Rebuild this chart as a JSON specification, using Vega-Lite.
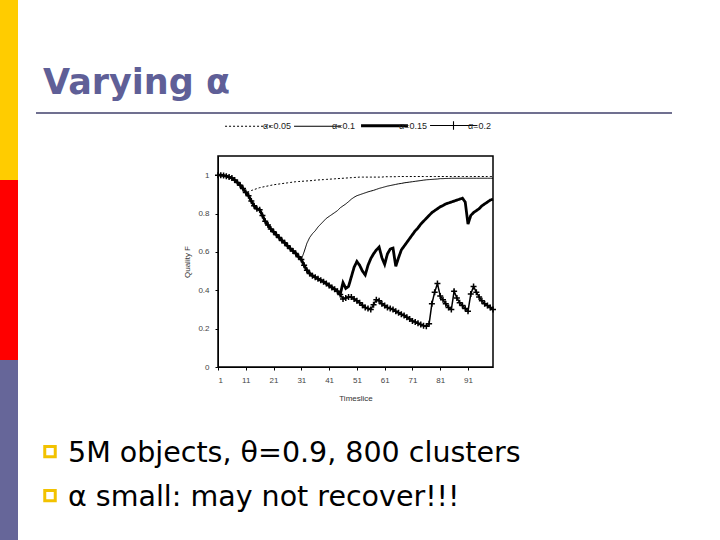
{
  "$schema": "https://vega.github.io/schema/vega-lite/v6.json",
  "padding": 0,
  "background": "white",
  "bounds": "flush",
  "spacing": 18,
  "resolve": {"scale": {"strokeDash": "independent", "color": "independent"}, "legend": {"strokeDash": "independent", "color": "independent"}},
  "config": {
    "view": {"stroke": null},
    "axis": {
      "labelFont": "Liberation Sans", "labelFontSize": 8, "labelColor": "#444444",
      "titleFont": "Liberation Sans", "titleFontSize": 8, "titleFontWeight": "normal", "titleColor": "#333333",
      "tickColor": "black", "domainColor": "black", "tickSize": 3, "grid": false
    }
  },
  "hconcat": [
    {
      "width": 18,
      "height": 540,
      "data": {"values": [{"band": "upper"}, {"band": "middle"}, {"band": "lower"}]},
      "mark": {"type": "rect"},
      "encoding": {
        "y": {"field": "band", "type": "nominal", "sort": ["upper", "middle", "lower"], "scale": {"type": "band", "paddingInner": 0, "paddingOuter": 0}, "axis": null},
        "color": {"field": "band", "type": "nominal", "scale": {"domain": ["upper", "middle", "lower"], "range": ["#ffcc00", "#ff0000", "#666699"]}, "legend": null}
      }
    },
    {
      "bounds": "full",
      "spacing": 6,
      "resolve": {"scale": {"strokeDash": "independent"}, "legend": {"strokeDash": "independent"}},
      "vconcat": [
        {
          "width": 636,
          "height": 113,
          "data": {"values": [{}]},
          "title": {
            "text": "Varying α", "anchor": "start", "orient": "top", "frame": "group",
            "offset": 0, "dx": 7, "dy": 129, "baseline": "alphabetic",
            "font": "DejaVu Sans", "fontSize": 35, "fontWeight": "bold", "color": "#5f5f97"
          },
          "mark": {"type": "rule", "color": "#707090", "strokeWidth": 2},
          "encoding": {"y": {"datum": 0, "type": "quantitative", "scale": {"domain": [0, 1]}, "axis": null}}
        },
        {
          "bounds": "flush",
          "spacing": 0,
          "resolve": {"scale": {"strokeDash": "independent"}, "legend": {"strokeDash": "independent"}},
          "hconcat": [
            {"width": 182, "height": 211, "data": {"values": []}, "mark": "point", "encoding": {}},
            {
              "width": 275,
              "height": 211,
              "view": {"stroke": "black", "strokeWidth": 1.5},
              "data": {"values": [
                {"t": 1, "a05": 1.0, "a10": 1.0, "a15": 1.0, "a20": 1.0},
                {"t": 2, "a05": 1.0, "a10": 1.0, "a15": 1.0, "a20": 1.0},
                {"t": 3, "a05": 0.998, "a10": 0.998, "a15": 0.998, "a20": 0.998},
                {"t": 4, "a05": 0.995, "a10": 0.995, "a15": 0.995, "a20": 0.995},
                {"t": 5, "a05": 0.99, "a10": 0.99, "a15": 0.99, "a20": 0.99},
                {"t": 6, "a05": 0.985, "a10": 0.985, "a15": 0.985, "a20": 0.985},
                {"t": 7, "a05": 0.975, "a10": 0.975, "a15": 0.975, "a20": 0.975},
                {"t": 8, "a05": 0.962, "a10": 0.962, "a15": 0.962, "a20": 0.962},
                {"t": 9, "a05": 0.948, "a10": 0.948, "a15": 0.948, "a20": 0.948},
                {"t": 10, "a05": 0.93, "a10": 0.93, "a15": 0.93, "a20": 0.93},
                {"t": 11, "a05": 0.91, "a10": 0.91, "a15": 0.91, "a20": 0.91},
                {"t": 12, "a05": 0.915, "a10": 0.893, "a15": 0.893, "a20": 0.893},
                {"t": 13, "a05": 0.92, "a10": 0.865, "a15": 0.865, "a20": 0.865},
                {"t": 14, "a05": 0.925, "a10": 0.84, "a15": 0.84, "a20": 0.84},
                {"t": 15, "a05": 0.93, "a10": 0.825, "a15": 0.825, "a20": 0.825},
                {"t": 16, "a05": 0.935, "a10": 0.82, "a15": 0.82, "a20": 0.82},
                {"t": 17, "a05": 0.938, "a10": 0.79, "a15": 0.79, "a20": 0.79},
                {"t": 18, "a05": 0.941, "a10": 0.76, "a15": 0.76, "a20": 0.76},
                {"t": 19, "a05": 0.944, "a10": 0.74, "a15": 0.74, "a20": 0.74},
                {"t": 20, "a05": 0.947, "a10": 0.72, "a15": 0.72, "a20": 0.72},
                {"t": 21, "a05": 0.95, "a10": 0.705, "a15": 0.705, "a20": 0.705},
                {"t": 22, "a05": 0.952, "a10": 0.69, "a15": 0.69, "a20": 0.69},
                {"t": 23, "a05": 0.954, "a10": 0.675, "a15": 0.675, "a20": 0.675},
                {"t": 24, "a05": 0.956, "a10": 0.66, "a15": 0.66, "a20": 0.66},
                {"t": 25, "a05": 0.958, "a10": 0.648, "a15": 0.648, "a20": 0.648},
                {"t": 26, "a05": 0.96, "a10": 0.632, "a15": 0.632, "a20": 0.632},
                {"t": 27, "a05": 0.962, "a10": 0.618, "a15": 0.618, "a20": 0.618},
                {"t": 28, "a05": 0.964, "a10": 0.605, "a15": 0.605, "a20": 0.605},
                {"t": 29, "a05": 0.966, "a10": 0.592, "a15": 0.592, "a20": 0.592},
                {"t": 30, "a05": 0.967, "a10": 0.575, "a15": 0.575, "a20": 0.575},
                {"t": 31, "a05": 0.968, "a10": 0.56, "a15": 0.56, "a20": 0.56},
                {"t": 32, "a05": 0.969, "a10": 0.6, "a15": 0.53, "a20": 0.53},
                {"t": 33, "a05": 0.97, "a10": 0.645, "a15": 0.505, "a20": 0.505},
                {"t": 34, "a05": 0.971, "a10": 0.675, "a15": 0.488, "a20": 0.488},
                {"t": 35, "a05": 0.972, "a10": 0.695, "a15": 0.476, "a20": 0.476},
                {"t": 36, "a05": 0.974, "a10": 0.71, "a15": 0.468, "a20": 0.468},
                {"t": 37, "a05": 0.975, "a10": 0.73, "a15": 0.46, "a20": 0.46},
                {"t": 38, "a05": 0.976, "a10": 0.745, "a15": 0.452, "a20": 0.452},
                {"t": 39, "a05": 0.977, "a10": 0.76, "a15": 0.445, "a20": 0.445},
                {"t": 40, "a05": 0.978, "a10": 0.775, "a15": 0.435, "a20": 0.435},
                {"t": 41, "a05": 0.979, "a10": 0.785, "a15": 0.425, "a20": 0.425},
                {"t": 42, "a05": 0.98, "a10": 0.795, "a15": 0.415, "a20": 0.415},
                {"t": 43, "a05": 0.981, "a10": 0.805, "a15": 0.405, "a20": 0.405},
                {"t": 44, "a05": 0.982, "a10": 0.815, "a15": 0.395, "a20": 0.395},
                {"t": 45, "a05": 0.983, "a10": 0.83, "a15": 0.378, "a20": 0.378},
                {"t": 46, "a05": 0.984, "a10": 0.84, "a15": 0.44, "a20": 0.355},
                {"t": 47, "a05": 0.985, "a10": 0.85, "a15": 0.41, "a20": 0.36},
                {"t": 48, "a05": 0.986, "a10": 0.862, "a15": 0.42, "a20": 0.365},
                {"t": 49, "a05": 0.987, "a10": 0.875, "a15": 0.47, "a20": 0.365},
                {"t": 50, "a05": 0.988, "a10": 0.885, "a15": 0.52, "a20": 0.355},
                {"t": 51, "a05": 0.989, "a10": 0.893, "a15": 0.55, "a20": 0.345},
                {"t": 52, "a05": 0.99, "a10": 0.898, "a15": 0.53, "a20": 0.335},
                {"t": 53, "a05": 0.99, "a10": 0.903, "a15": 0.5, "a20": 0.322},
                {"t": 54, "a05": 0.99, "a10": 0.908, "a15": 0.48, "a20": 0.31},
                {"t": 55, "a05": 0.99, "a10": 0.913, "a15": 0.53, "a20": 0.305},
                {"t": 56, "a05": 0.99, "a10": 0.917, "a15": 0.565, "a20": 0.3},
                {"t": 57, "a05": 0.99, "a10": 0.921, "a15": 0.59, "a20": 0.325},
                {"t": 58, "a05": 0.99, "a10": 0.926, "a15": 0.61, "a20": 0.35},
                {"t": 59, "a05": 0.99, "a10": 0.931, "a15": 0.625, "a20": 0.345},
                {"t": 60, "a05": 0.99, "a10": 0.935, "a15": 0.57, "a20": 0.33},
                {"t": 61, "a05": 0.992, "a10": 0.939, "a15": 0.535, "a20": 0.32},
                {"t": 62, "a05": 0.992, "a10": 0.943, "a15": 0.59, "a20": 0.31},
                {"t": 63, "a05": 0.992, "a10": 0.946, "a15": 0.615, "a20": 0.305},
                {"t": 64, "a05": 0.992, "a10": 0.949, "a15": 0.62, "a20": 0.3},
                {"t": 65, "a05": 0.992, "a10": 0.952, "a15": 0.525, "a20": 0.29},
                {"t": 66, "a05": 0.993, "a10": 0.955, "a15": 0.57, "a20": 0.283},
                {"t": 67, "a05": 0.993, "a10": 0.957, "a15": 0.61, "a20": 0.275},
                {"t": 68, "a05": 0.993, "a10": 0.96, "a15": 0.63, "a20": 0.268},
                {"t": 69, "a05": 0.993, "a10": 0.962, "a15": 0.65, "a20": 0.26},
                {"t": 70, "a05": 0.993, "a10": 0.964, "a15": 0.67, "a20": 0.25},
                {"t": 71, "a05": 0.993, "a10": 0.966, "a15": 0.69, "a20": 0.24},
                {"t": 72, "a05": 0.993, "a10": 0.968, "a15": 0.71, "a20": 0.235},
                {"t": 73, "a05": 0.993, "a10": 0.97, "a15": 0.725, "a20": 0.228},
                {"t": 74, "a05": 0.993, "a10": 0.972, "a15": 0.745, "a20": 0.222},
                {"t": 75, "a05": 0.993, "a10": 0.974, "a15": 0.76, "a20": 0.215},
                {"t": 76, "a05": 0.993, "a10": 0.976, "a15": 0.775, "a20": 0.212},
                {"t": 77, "a05": 0.993, "a10": 0.977, "a15": 0.79, "a20": 0.225},
                {"t": 78, "a05": 0.993, "a10": 0.978, "a15": 0.805, "a20": 0.33},
                {"t": 79, "a05": 0.993, "a10": 0.979, "a15": 0.815, "a20": 0.39},
                {"t": 80, "a05": 0.993, "a10": 0.98, "a15": 0.825, "a20": 0.435},
                {"t": 81, "a05": 0.993, "a10": 0.982, "a15": 0.835, "a20": 0.37},
                {"t": 82, "a05": 0.993, "a10": 0.982, "a15": 0.842, "a20": 0.35},
                {"t": 83, "a05": 0.993, "a10": 0.983, "a15": 0.85, "a20": 0.33},
                {"t": 84, "a05": 0.993, "a10": 0.983, "a15": 0.855, "a20": 0.31},
                {"t": 85, "a05": 0.993, "a10": 0.984, "a15": 0.86, "a20": 0.3},
                {"t": 86, "a05": 0.993, "a10": 0.984, "a15": 0.865, "a20": 0.395},
                {"t": 87, "a05": 0.993, "a10": 0.984, "a15": 0.87, "a20": 0.36},
                {"t": 88, "a05": 0.993, "a10": 0.984, "a15": 0.875, "a20": 0.335},
                {"t": 89, "a05": 0.993, "a10": 0.984, "a15": 0.88, "a20": 0.32},
                {"t": 90, "a05": 0.993, "a10": 0.984, "a15": 0.86, "a20": 0.305},
                {"t": 91, "a05": 0.993, "a10": 0.984, "a15": 0.745, "a20": 0.29},
                {"t": 92, "a05": 0.993, "a10": 0.984, "a15": 0.79, "a20": 0.38},
                {"t": 93, "a05": 0.993, "a10": 0.984, "a15": 0.805, "a20": 0.42},
                {"t": 94, "a05": 0.993, "a10": 0.984, "a15": 0.815, "a20": 0.39},
                {"t": 95, "a05": 0.993, "a10": 0.984, "a15": 0.825, "a20": 0.365},
                {"t": 96, "a05": 0.993, "a10": 0.984, "a15": 0.84, "a20": 0.345},
                {"t": 97, "a05": 0.993, "a10": 0.984, "a15": 0.85, "a20": 0.33},
                {"t": 98, "a05": 0.993, "a10": 0.984, "a15": 0.86, "a20": 0.32},
                {"t": 99, "a05": 0.993, "a10": 0.984, "a15": 0.87, "a20": 0.31},
                {"t": 100, "a05": 0.993, "a10": 0.984, "a15": 0.875, "a20": 0.3}
              ]},
              "transform": [{"fold": ["a05", "a10", "a15", "a20"], "as": ["series", "F"]}],
              "encoding": {
                "x": {
                  "field": "t", "type": "quantitative",
                  "scale": {"domain": [1, 100], "nice": false, "zero": false},
                  "axis": {"values": [1, 11, 21, 31, 41, 51, 61, 71, 81, 91], "title": "Timeslice", "labelPadding": 6, "titlePadding": 10}
                },
                "y": {
                  "field": "F", "type": "quantitative",
                  "scale": {"domain": [0, 1.1], "nice": false},
                  "axis": {"values": [0, 0.2, 0.4, 0.6, 0.8, 1], "format": ".1~f", "title": "Quality F", "labelPadding": 6, "titlePadding": 6}
                }
              },
              "layer": [
                {
                  "transform": [{"filter": "datum.series === 'a05' || datum.series === 'a10'"}],
                  "mark": {"type": "line", "color": "black", "strokeWidth": 1},
                  "encoding": {
                    "strokeDash": {
                      "field": "series", "type": "nominal",
                      "scale": {"domain": ["a05", "a10", "a15", "a20"], "range": [[2, 2], [1, 0], [1, 0], [1, 0]]},
                      "legend": {
                        "orient": "none", "legendX": 26, "legendY": -35, "direction": "horizontal", "title": null,
                        "labelExpr": "{'a05': 'α=0.05', 'a10': 'α=0.1', 'a15': 'α=0.15', 'a20': 'α=0.2'}[datum.label]",
                        "labelFont": "Liberation Sans", "labelFontSize": 9, "labelColor": "#222222", "labelOffset": 10,
                        "symbolSize": 2200, "symbolStrokeColor": "black", "columnPadding": 0,
                        "encode": {
                          "symbols": {
                            "update": {
                              "shape": {"signal": "datum.value === 'a20' ? 'M-1,0H1M0,-0.18V0.18' : 'M-1,0H1'"},
                              "strokeWidth": {"signal": "datum.value === 'a15' ? 3 : 1.1"},
                              "stroke": {"value": "black"}
                            }
                          }
                        }
                      }
                    }
                  }
                },
                {
                  "transform": [{"filter": "datum.series === 'a15'"}],
                  "mark": {"type": "line", "color": "black", "strokeWidth": 2.8},
                  "encoding": {"strokeDash": {"field": "series", "type": "nominal"}}
                },
                {
                  "transform": [{"filter": "datum.series === 'a20'"}],
                  "mark": {"type": "line", "color": "black", "strokeWidth": 1.5},
                  "encoding": {"strokeDash": {"field": "series", "type": "nominal"}}
                },
                {
                  "transform": [{"filter": "datum.series === 'a20'"}],
                  "mark": {"type": "point", "shape": "M-1,0H1M0,-1V1", "size": 36, "stroke": "black", "strokeWidth": 1.5, "filled": false, "opacity": 1}
                }
              ]
            }
          ]
        },
        {
          "width": 684,
          "height": 132,
          "data": {"values": [
            {"line": 1, "text": "5M objects, θ=0.9, 800 clusters"},
            {"line": 2, "text": "α small: may not recover!!!"}
          ]},
          "encoding": {
            "x": {"datum": 0, "type": "quantitative", "scale": {"domain": [0, 1]}, "axis": null},
            "y": {"field": "line", "type": "ordinal", "scale": {"type": "point", "padding": 1.15, "align": 0.598}, "axis": null}
          },
          "layer": [
            {
              "mark": {"type": "point", "shape": "square", "size": 110, "filled": false, "stroke": "#f2c200", "strokeWidth": 3, "opacity": 1, "xOffset": 14, "yOffset": -10}
            },
            {
              "mark": {"type": "text", "align": "left", "baseline": "alphabetic", "dx": 32, "font": "DejaVu Sans", "fontSize": 28.5, "color": "black"},
              "encoding": {"text": {"field": "text"}}
            }
          ]
        }
      ]
    }
  ]
}
